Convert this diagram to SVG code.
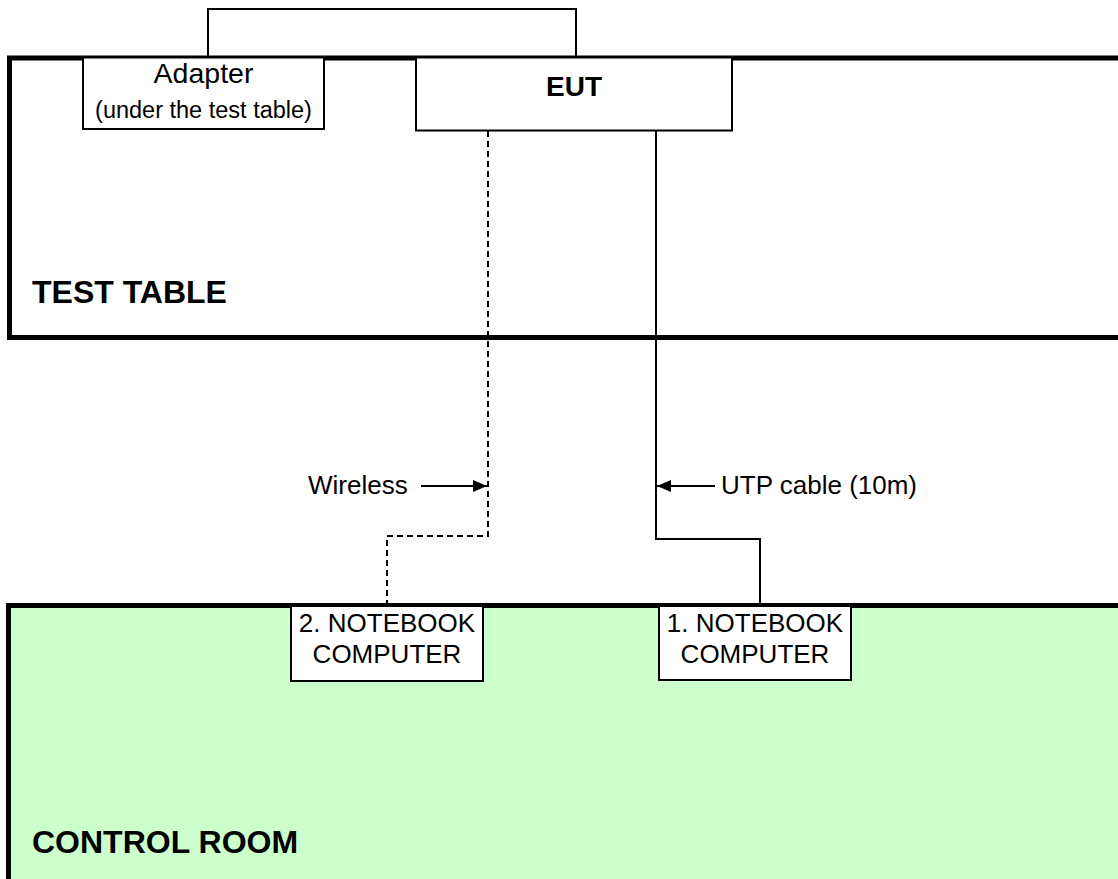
<svg xmlns="http://www.w3.org/2000/svg" width="1118" height="879" viewBox="0 0 1118 879">
<style>
text{font-family:"Liberation Sans",Arial,sans-serif;fill:#000}
.box{fill:#fff;stroke:#000;stroke-width:2}
.area{stroke:#000;stroke-width:5}
.wire{fill:none;stroke:#000;stroke-width:2}
.dash{fill:none;stroke:#000;stroke-width:2;stroke-dasharray:6 4}
.lbl{font-size:26px}
.bold{font-weight:bold}
</style>
<defs>
<marker id="ah" viewBox="0 0 14 12" refX="14" refY="6" markerWidth="14" markerHeight="12" markerUnits="userSpaceOnUse" orient="auto">
<path d="M0,0 L14,6 L0,12 Z" fill="#000"/>
</marker>
</defs>
<g id="test-table">
<rect class="area" x="9.5" y="58" width="1130" height="279.5" fill="#fff"/>
<text class="bold" x="32" y="303" font-size="32">TEST TABLE</text>
</g>
<g id="control-room">
<rect class="area" x="8.5" y="605.5" width="1130" height="300" fill="#ccffcc"/>
<text class="bold" x="32" y="853" font-size="32">CONTROL ROOM</text>
</g>
<g id="connectors">
<polyline class="wire" points="208,58 208,9 576,9 576,58"/>
<polyline class="dash" points="488,131 488,536 387,536 387,605"/>
<polyline class="wire" points="656,131 656,539 760,539 760,605"/>
<line class="wire" x1="421" y1="486" x2="487" y2="486" marker-end="url(#ah)"/>
<line class="wire" x1="715" y1="486" x2="657" y2="486" marker-end="url(#ah)"/>
</g>
<g id="adapter">
<rect class="box" x="83" y="57.5" width="241" height="71.5"/>
<text x="203.5" y="83" font-size="28.5" text-anchor="middle">Adapter</text>
<text x="203.5" y="118" font-size="23.5" text-anchor="middle">(under the test table)</text>
</g>
<g id="eut">
<rect class="box" x="416" y="57.5" width="316" height="73"/>
<text class="bold" x="574" y="96" font-size="28" text-anchor="middle">EUT</text>
</g>
<g id="notebook2">
<rect class="box" x="291" y="606" width="192" height="75"/>
<text class="lbl" x="387" y="632" text-anchor="middle">2. NOTEBOOK</text>
<text class="lbl" x="387" y="663" text-anchor="middle">COMPUTER</text>
</g>
<g id="notebook1">
<rect class="box" x="659" y="606" width="192" height="74"/>
<text class="lbl" x="755" y="632" text-anchor="middle">1. NOTEBOOK</text>
<text class="lbl" x="755" y="663" text-anchor="middle">COMPUTER</text>
</g>
<g id="labels">
<text class="lbl" x="308" y="494">Wireless</text>
<text class="lbl" x="721" y="494">UTP cable (10m)</text>
</g>
</svg>
